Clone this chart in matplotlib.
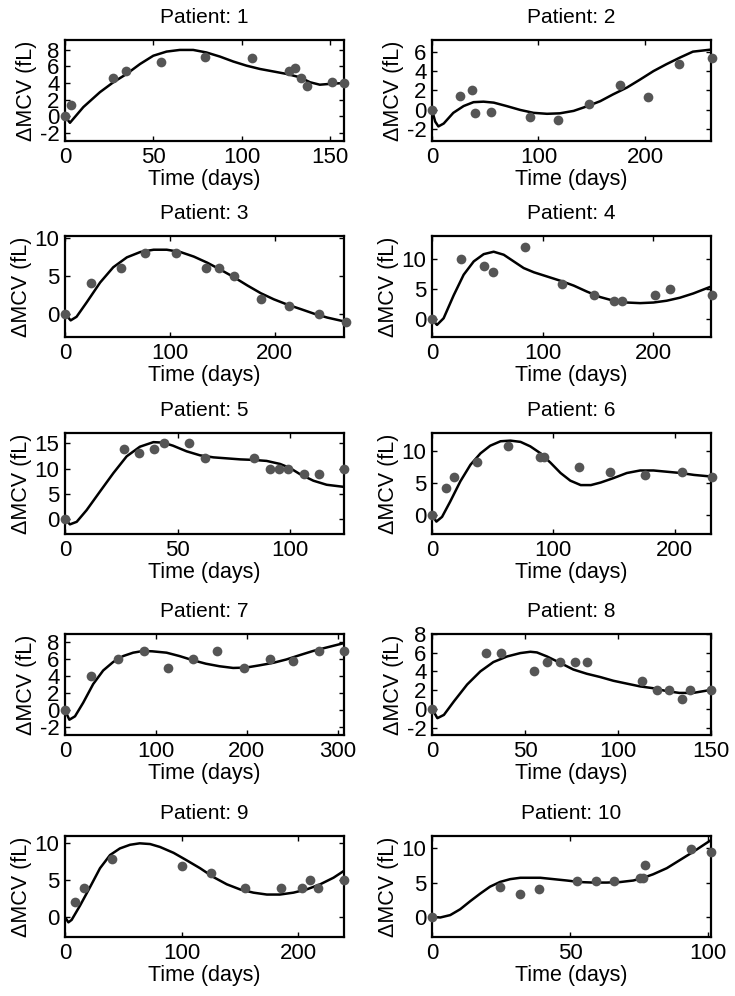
import matplotlib
matplotlib.use('Agg')
from matplotlib import pyplot as plt

plt.rcParams['font.family'] = ['Liberation Sans', 'DejaVu Sans']
plt.rcParams['axes.unicode_minus'] = False

#%% measured points (days, delta MCV in fL)
t1 = [0, 3.4, 27.4, 34.5, 54.5, 79, 106, 126.6, 130.4, 133.6, 137.2, 151, 158]
y1 = [0, 1.4, 4.6, 5.4, 6.5, 7.1, 7.0, 5.5, 5.8, 4.6, 3.7, 4.1, 4.0]
t2 = [0, 26.5, 37.5, 40.6, 55.6, 92, 118, 147.5, 176.6, 203, 232, 262.5]
y2 = [0, 1.4, 2.1, -0.3, -0.2, -0.75, -1.0, 0.6, 2.6, 1.3, 4.7, 5.3]
t3 = [0, 25, 53, 76.5, 106, 134, 146.7, 161, 186.6, 213.7, 242.4, 268]
y3 = [0, 4.0, 6.0, 8.0, 8.0, 6.0, 6.0, 5.0, 2.0, 1.0, 0, -1.1]
t4 = [0, 26, 46.7, 55, 84, 117, 146, 164, 172, 201, 215, 253]
y4 = [0, 10, 8.9, 7.9, 11.9, 5.9, 4.05, 3.05, 3.05, 4.05, 5.0, 4.05]
t5 = [0, 26, 33, 39.7, 44, 55, 62, 84, 91, 95, 99, 106, 113, 124]
y5 = [0, 13.9, 13.0, 13.9, 15, 15, 12.0, 12.0, 9.9, 9.9, 9.9, 8.9, 8.9, 9.9]
t6 = [0, 11.6, 18.5, 37, 62.5, 88.7, 92.3, 121, 146.6, 175.5, 205.8, 230.8]
y6 = [0, 4.2, 5.9, 8.4, 10.8, 9.2, 9.05, 7.5, 6.8, 6.3, 6.7, 6.05]
t7 = [0, 29, 58, 87, 113, 141, 167, 197, 226, 251, 280, 307]
y7 = [0, 4.0, 6.0, 7.0, 5.0, 6.0, 7.0, 5.0, 6.0, 5.8, 7.0, 7.0]
t8 = [0, 28.8, 37, 55, 61.8, 69, 77, 83.6, 112.7, 120.7, 127.5, 134.6, 138.6, 149.8]
y8 = [0, 6.0, 6.0, 4.0, 5.0, 5.0, 5.0, 5.0, 3.0, 2.0, 2.0, 1.0, 2.0, 2.0]
t9 = [8.6, 16.3, 40.6, 100, 124.9, 154, 185, 203, 210, 217, 239.4]
y9 = [2.0, 3.9, 7.9, 6.9, 6.0, 3.9, 3.9, 3.9, 5.0, 3.9, 5.0]
t10 = [0, 24.7, 31.7, 38.6, 52.4, 59.3, 66, 75.3, 76.3, 77.2, 93.6, 101]
y10 = [0, 4.4, 3.35, 4.0, 5.3, 5.2, 5.3, 5.7, 5.6, 7.5, 9.9, 9.4]

#%% model curves
ct1 = [0, 2.8, 10.4, 19.8, 27.4, 34.9, 42.5, 50, 57.5, 65, 72.6, 80, 87.7, 95.3,
       102.8, 110.4, 118, 125.5, 133, 138.7, 144.3, 150, 157.5]
cy1 = [0, -0.8, 1.1, 2.9, 4.1, 5.1, 6.3, 7.3, 7.8, 8.0, 8.0, 7.7, 7.2, 6.6,
       6.1, 5.7, 5.4, 5.1, 4.7, 4.1, 3.8, 3.9, 4.0]
ct2 = [0, 3, 6, 11, 20, 29.7, 39, 48.4, 58, 70, 82.8, 95.3, 108, 120, 133, 145,
       158, 170, 183, 195, 208, 220, 233, 245, 261]
cy2 = [0, -1.2, -1.7, -1.4, -0.3, 0.4, 0.8, 0.85, 0.75, 0.4, 0.0, -0.3, -0.4,
       -0.35, -0.1, 0.35, 0.9, 1.6, 2.3, 3.1, 4.0, 4.7, 5.4, 6.0, 6.2]
ct3 = [0, 5.4, 11, 20.7, 33.5, 46, 59, 71.8, 84.5, 97, 110, 122.8, 135.6, 148,
       161, 174, 186.6, 199, 212, 225, 237.6, 250, 266]
cy3 = [0, -0.87, -0.4, 1.5, 4.1, 6.1, 7.4, 8.1, 8.4, 8.4, 8.1, 7.5, 6.7, 5.8,
       4.8, 3.7, 2.7, 1.9, 1.2, 0.6, 0, -0.5, -1.0]
ct4 = [0, 4.5, 10.5, 19.6, 28.6, 37.7, 46.7, 55.7, 64.8, 73.8, 82.8, 92, 104,
       116, 128, 140, 152, 164, 176, 188, 200, 212, 224, 236, 251.5]
cy4 = [0, -0.9, 0.2, 4.0, 7.4, 9.6, 10.8, 11.2, 10.7, 9.6, 8.5, 7.8, 7.1,
       6.4, 5.6, 4.6, 3.7, 3.1, 2.8, 2.7, 2.8, 3.1, 3.6, 4.3, 5.4]
ct5 = [0, 2.2, 5.2, 9.6, 15.6, 21.5, 27.4, 33.3, 39.3, 43.7, 48, 54, 60, 66,
       72, 78, 83.7, 89.6, 95.6, 100, 104.4, 110.4, 116.3, 123.7]
cy5 = [0, -1.0, -0.5, 1.8, 5.5, 9.1, 12.4, 14.3, 15.2, 15.1, 14.5, 13.4, 12.6,
       12.2, 12.0, 11.8, 11.7, 11.5, 10.9, 10.1, 8.9, 7.6, 6.8, 6.4]
ct6 = [0, 3.6, 8.3, 15, 23.4, 31.7, 40, 48, 56.5, 64.7, 73, 81, 89.5, 97.8,
       106, 114, 122.6, 131, 139, 149.6, 160.6, 171.6, 182.6, 193.7, 205, 216, 230]
cy6 = [0, -1.05, -0.3, 2.1, 5.3, 7.9, 9.7, 10.9, 11.6, 11.7, 11.5, 10.8, 9.7,
       8.2, 6.6, 5.4, 4.7, 4.7, 5.1, 5.8, 6.6, 7.0, 7.0, 6.8, 6.6, 6.3, 6.05]
ct7 = [0, 4.8, 11, 20, 31, 42, 53, 64, 75, 86, 96, 111.7, 126, 141, 155, 170,
       185, 199, 213.6, 229, 243.6, 258, 273, 287.5, 306]
cy7 = [0, -1.1, -0.7, 0.9, 3.1, 4.7, 5.7, 6.4, 6.8, 7.0, 6.96, 6.8, 6.4, 5.9,
       5.5, 5.2, 5.0, 5.04, 5.3, 5.6, 6.0, 6.5, 7.0, 7.4, 7.9]
ct8 = [0, 2.9, 6.4, 11.8, 18.9, 26, 33, 40.4, 47.5, 52.9, 56.4, 61.8, 69, 76,
       83.2, 90.4, 97.5, 104.6, 111.8, 119, 126, 133, 140.4, 149.3]
cy8 = [0, -1.0, -0.65, 0.8, 2.6, 4.0, 5.0, 5.6, 5.96, 6.1, 6.03, 5.6, 4.9, 4.2,
       3.75, 3.4, 3.0, 2.7, 2.4, 2.2, 1.9, 1.7, 1.7, 2.0]
ct9 = [0.9, 2.9, 5.7, 12.9, 21.4, 30, 38.6, 47, 55.7, 64, 72.9, 81.4, 93, 104,
       115.7, 127, 138.6, 150, 161.4, 172.9, 184, 195.7, 207, 218.6, 230, 238.6]
cy9 = [-0.3, -0.8, -0.46, 1.5, 4.0, 6.6, 8.4, 9.3, 9.8, 10.0, 9.9, 9.5, 8.7,
       7.7, 6.6, 5.4, 4.4, 3.7, 3.26, 3.0, 3.0, 3.26, 3.7, 4.4, 5.3, 6.2]
ct10 = [0, 3, 6.6, 10.2, 13.9, 17.5, 21, 24.7, 28.3, 32, 35.5, 39.2, 44, 48.8,
        53.6, 58.4, 63.3, 68, 72.9, 76.5, 80, 85, 89.8, 94.6, 100.6]
cy10 = [0, -0.1, 0.25, 1.1, 2.3, 3.4, 4.4, 5.1, 5.5, 5.7, 5.7, 5.7, 5.5, 5.3,
        5.07, 5.0, 5.0, 5.07, 5.3, 5.7, 6.2, 7.1, 8.3, 9.5, 11.1]

#%% axis limits and ticks per patient
xlims = [158, 262, 266, 252, 124, 230, 307, 150, 239, 101]
ylims = [(-3, 9.2), (-3.2, 7.2), (-3.05, 10.2), (-2.9, 13.8), (-2.9, 17),
         (-3, 12.9), (-2.9, 9), (-2.8, 8), (-2.8, 11), (-2.95, 11.8)]
xsteps = [50, 100, 100, 100, 50, 100, 100, 50, 100, 50]
ysteps = [2, 2, 5, 5, 5, 5, 2, 2, 5, 5]

pts = [(t1, y1), (t2, y2), (t3, y3), (t4, y4), (t5, y5),
       (t6, y6), (t7, y7), (t8, y8), (t9, y9), (t10, y10)]
curves = [(ct1, cy1), (ct2, cy2), (ct3, cy3), (ct4, cy4), (ct5, cy5),
          (ct6, cy6), (ct7, cy7), (ct8, cy8), (ct9, cy9), (ct10, cy10)]

#%%
W, H = 735, 996
fig = plt.figure(figsize=(W/100, H/100), dpi=100)
lefts = [65, 432]
tops = [40, 236, 433, 634, 836]
aw, ah = 279, 101

for k in range(10):
    r, c = divmod(k, 2)
    ax = fig.add_axes([lefts[c]/W, 1 - (tops[r]+ah)/H, aw/W, ah/H])
    ct, cy = curves[k]
    ax.plot(ct, cy, color='black', lw=1.8, zorder=2)
    t, y = pts[k]
    ax.plot(t, y, 'o', color='#555555', ms=7, mec='none', zorder=3, clip_on=False)
    ax.set_xlim(0, xlims[k])
    ax.set_ylim(*ylims[k])
    xs = xsteps[k]
    ax.set_xticks(range(0, int(xlims[k]) + 1, xs))
    ys = ysteps[k]
    lo = -2 if ys == 2 else 0
    ax.set_yticks(range(lo, int(ylims[k][1]) + 1, ys))
    ax.tick_params(direction='in', top=True, right=True, length=3.5, width=1,
                   labelsize=16, pad=4)
    for s in ax.spines.values():
        s.set_linewidth(1.6)
    ax.set_title('Patient: %d' % (k+1), fontsize=15, pad=12)
    ax.set_xlabel('Time (days)', fontsize=15.5, labelpad=1)
    ax.set_ylabel('\u0394MCV (fL)', fontsize=15.5, labelpad=2)

fig.savefig('out.png', dpi=100)
